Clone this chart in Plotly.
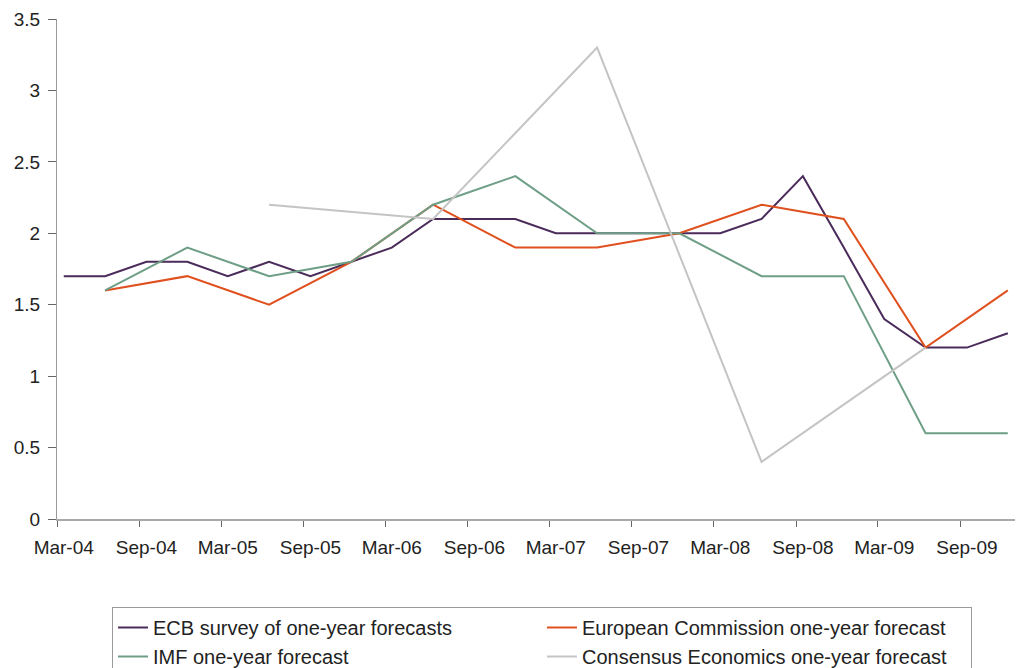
import pandas as pd
import plotly.graph_objects as go

quarters = ["Mar-04", "Jun-04", "Sep-04", "Dec-04",
            "Mar-05", "Jun-05", "Sep-05", "Dec-05",
            "Mar-06", "Jun-06", "Sep-06", "Dec-06",
            "Mar-07", "Jun-07", "Sep-07", "Dec-07",
            "Mar-08", "Jun-08", "Sep-08", "Dec-08",
            "Mar-09", "Jun-09", "Sep-09", "Dec-09"]

ecb = [1.7, 1.7, 1.8, 1.8,
       1.7, 1.8, 1.7, 1.8,
       1.9, 2.1, 2.1, 2.1,
       2.0, 2.0, 2.0, 2.0,
       2.0, 2.1, 2.4, 1.9,
       1.4, 1.2, 1.2, 1.3]

ec = [None, 1.6, None, 1.7,
      None, 1.5, None, 1.8,
      None, 2.2, None, 1.9,
      None, 1.9, None, 2.0,
      None, 2.2, None, 2.1,
      None, 1.2, None, 1.6]

imf = [None, 1.6, None, 1.9,
       None, 1.7, None, 1.8,
       None, 2.2, None, 2.4,
       None, 2.0, None, 2.0,
       None, 1.7, None, 1.7,
       None, 0.6, None, 0.6]

consensus = [None, None, None, None,
             None, 2.2, None, None,
             None, 2.1, None, None,
             None, 3.3, None, None,
             None, 0.4, None, None,
             None, 1.2, None, None]

tick_labels = ["Mar-04", "Sep-04", "Mar-05", "Sep-05", "Mar-06", "Sep-06",
               "Mar-07", "Sep-07", "Mar-08", "Sep-08", "Mar-09", "Sep-09"]

series = [
    ("ECB survey of one-year forecasts", ecb, "#4a2b5a"),
    ("European Commission one-year forecast", ec, "#e0501e"),
    ("IMF one-year forecast", imf, "#6e9f86"),
    ("Consensus Economics one-year forecast", consensus, "#c4c4c4"),
]

def mid_month(lbl):
    return pd.to_datetime(lbl, format="%b-%y") + pd.Timedelta(days=15)

x = [mid_month(q) for q in quarters]
tickvals = [mid_month(t) for t in tick_labels]

fig = go.Figure()
for name, vals, color in series:
    fig.add_trace(go.Scatter(
        x=x, y=vals, name=name, mode="lines", connectgaps=True,
        line=dict(color=color, width=2),
    ))

font_family = "Liberation Sans, Arial, sans-serif"
fig.update_layout(
    width=1016, height=668,
    margin=dict(l=57, r=1, t=19, b=149, autoexpand=False),
    plot_bgcolor="white", paper_bgcolor="white",
    font=dict(family=font_family, size=19, color="#222222"),
    showlegend=True,
    legend=dict(
        orientation="h",
        x=(112 - 57) / 958, xanchor="left",
        y=(519 - 607) / 500, yanchor="top",
        bordercolor="#999999", borderwidth=1,
        entrywidth=384, entrywidthmode="pixels",
        font=dict(size=20),
        itemwidth=30,
    ),
    xaxis=dict(
        type="date",
        range=["2004-03-01", "2010-01-01"],
        tickmode="array", tickvals=tickvals, ticktext=tick_labels,
        ticks="", showgrid=False, zeroline=False,
        showline=True, linecolor="#aaaaaa", linewidth=2,
        tickfont=dict(size=19), ticklabelstandoff=10,
        minor=dict(tick0="2004-03-01", dtick="M6", ticks="outside",
                   ticklen=6, tickcolor="#666666", showgrid=False),
    ),
    yaxis=dict(
        range=[0, 3.5], dtick=0.5, tick0=0,
        ticks="outside", ticklen=8, tickcolor="#666666",
        showgrid=False, zeroline=False,
        showline=True, linecolor="#999999", linewidth=1,
        tickfont=dict(size=19), ticklabelstandoff=4,
    ),
)

fig.write_html("out.html")
